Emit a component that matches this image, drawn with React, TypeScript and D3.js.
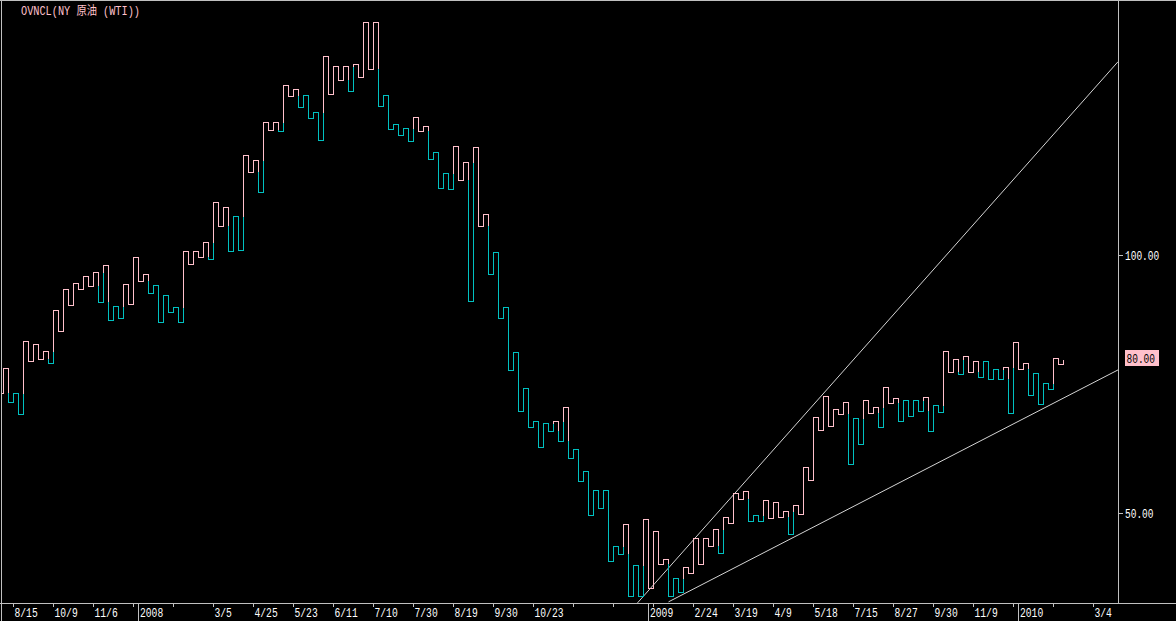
import React from "react";
import * as d3 from "d3";

// Kagi reversal levels (USD/bbl), left to right
const kagiLevels: number[] = [
  73.28, 78.02, 71.42, 73.17, 69.09, 83.31, 79.43, 82.67, 79.76, 81.32,
  78.99, 89.27, 85.2, 93.35, 90.3, 94.51, 93.4, 95.87, 93.93, 96.7,
  90.94, 98.0, 87.33, 90.05, 87.72, 94.32, 90.43, 99.61, 94.9, 96.26,
  92.57, 94.24, 86.94, 92.24, 88.88, 89.85, 86.94, 100.72, 98.2, 100.72,
  99.55, 102.46, 99.28, 110.22, 105.57, 109.25, 100.72, 107.51, 100.91, 119.34,
  116.01, 118.47, 112.32, 125.9, 124.19, 125.71, 124.02, 133.08, 130.79, 132.15,
  128.81, 130.99, 126.52, 127.69, 122.25, 138.55, 131.18, 136.61, 133.9, 136.61,
  131.82, 137.0, 134.48, 145.15, 136.03, 145.15, 128.85, 130.99, 124.39, 125.36,
  123.22, 124.58, 122.06, 126.72, 124.0, 124.97, 118.57, 119.93, 112.94, 115.85,
  112.75, 121.09, 114.49, 117.99, 91.02, 120.9, 105.57, 107.9, 96.26, 100.52,
  87.72, 89.85, 77.63, 81.12, 69.67, 74.14, 66.57, 67.73, 62.71, 67.35,
  65.79, 67.73, 63.85, 70.45, 60.56, 62.3, 56.09, 58.03, 49.5, 54.35,
  50.85, 54.35, 40.57, 43.48, 41.93, 47.75, 33.78, 39.8, 33.78, 48.72,
  35.33, 46.39, 39.99, 40.96, 33.78, 37.27, 34.56, 39.41, 38.24, 45.03,
  39.99, 45.03, 43.48, 46.78, 42.12, 49.11, 47.94, 53.76, 52.6, 54.15,
  48.33, 49.5, 48.33, 52.41, 48.91, 52.02, 49.11, 50.27, 45.81, 51.44,
  49.69, 58.81, 56.29, 68.51, 65.99, 72.58, 66.76, 70.06, 69.09, 71.42,
  59.39, 68.32, 63.27, 71.81, 69.29, 70.45, 66.57, 74.33, 71.23, 72.29,
  67.73, 71.81, 68.7, 71.81, 69.67, 72.39, 65.79, 70.84, 69.48, 81.32,
  77.24, 79.76, 76.85, 80.35, 77.24, 79.38, 76.27, 79.38, 75.88, 77.82,
  75.88, 78.21, 69.29, 83.06, 77.82, 78.99, 72.78, 77.05, 71.03, 75.11,
  73.94, 79.96, 78.79, 79.72,
];

// bottom axis: one tick every 8 kagi lines, starting at line 3
const dateLabels: string[] = [
  "8/15", "10/9", "11/6", "", "", "3/5", "4/25", "5/23", "6/11", "7/10",
  "7/30", "8/19", "9/30", "10/23", "", "", "", "2/24", "3/19", "4/9",
  "5/18", "7/15", "8/27", "9/30", "11/9", "", "", "3/4",
];
const yearLabels: string[] = ["2008", "2009", "2010"];
const yearLineIndex: number[] = [28, 130, 204];

const priceTicks: number[] = [50, 100];
const lastPrice = 80.0;

// trend lines: [kagi index, price]
const trendSteep: [number, number][] = [[127.8, 32.5], [223.9, 137.5]];
const trendShallow: [number, number][] = [[134.0, 32.7], [223.9, 77.7]];

const titleText = "OVNCL(NY 原油 (WTI))";

const PINK = "#ffc0cb";
const CYAN = "#00c0c0";
const FRAME = "#c0c0c0";
const TREND = "#d4d4d4";
const FONT = "'Liberation Mono', 'DejaVu Sans Mono', 'Noto Sans CJK JP', monospace";

type Seg = { x1: number; y1: number; x2: number; y2: number; c: string };

export default function App() {
  const W = 1176;
  const H = 621;
  const plotRight = 1118;
  const plotBottom = 603;

  const x = d3.scaleLinear().domain([1, 213]).range([3.5, 1063.5]);
  const y = d3.scaleLinear().domain([50, 100]).range([512.7, 255]);
  const py = (v: number) => Math.round(y(v)) + 0.5;

  const segs: Seg[] = [];
  let yang = true;
  segs.push({ x1: 1.5, y1: py(kagiLevels[0]), x2: x(1), y2: py(kagiLevels[0]), c: PINK });
  for (let i = 1; i < kagiLevels.length; i++) {
    const from = kagiLevels[i - 1];
    const to = kagiLevels[i];
    const xi = x(i);
    const up = to > from;
    const ref = i >= 2 ? kagiLevels[i - 2] : undefined;
    if (up && !yang && ref !== undefined && to > ref) {
      segs.push({ x1: xi, y1: py(from), x2: xi, y2: py(ref), c: CYAN });
      segs.push({ x1: xi, y1: py(ref), x2: xi, y2: py(to), c: PINK });
      yang = true;
    } else if (!up && yang && ref !== undefined && to < ref) {
      segs.push({ x1: xi, y1: py(from), x2: xi, y2: py(ref), c: PINK });
      segs.push({ x1: xi, y1: py(ref), x2: xi, y2: py(to), c: CYAN });
      yang = false;
    } else {
      segs.push({ x1: xi, y1: py(from), x2: xi, y2: py(to), c: yang ? PINK : CYAN });
    }
    if (i < kagiLevels.length - 1) {
      segs.push({ x1: xi, y1: py(to), x2: x(i + 1), y2: py(to), c: yang ? PINK : CYAN });
    }
  }

  const trendLine = d3
    .line<[number, number]>()
    .x((d) => x(d[0]))
    .y((d) => y(d[1]));

  const tickIdx = dateLabels.map((_, k) => 3 + 8 * k);
  const labelY = 617;

  return (
    <div style={{ position: "absolute", left: 0, top: 0, width: W, height: H, background: "#000" }}>
      <svg width={W} height={H} style={{ display: "block", background: "#000" }}>
        <defs>
          <clipPath id="plot">
            <rect x={2} y={1} width={plotRight - 2} height={plotBottom - 1} />
          </clipPath>
        </defs>
        <rect x={0} y={0} width={W} height={H} fill="#000" />

        {/* frame */}
        <g stroke={FRAME} strokeWidth={1} shapeRendering="crispEdges">
          <line x1={0} y1={0.5} x2={W} y2={0.5} />
          <line x1={1.5} y1={0} x2={1.5} y2={H} />
          <line x1={plotRight + 0.5} y1={0} x2={plotRight + 0.5} y2={plotBottom} />
          <line x1={0} y1={plotBottom + 0.5} x2={W} y2={plotBottom + 0.5} />
        </g>

        {/* trend lines */}
        <g clipPath="url(#plot)" fill="none" stroke={TREND} strokeWidth={1}>
          <path d={trendLine(trendSteep) || ""} />
          <path d={trendLine(trendShallow) || ""} />
        </g>

        {/* kagi */}
        <g clipPath="url(#plot)" strokeWidth={1} shapeRendering="crispEdges" strokeLinecap="square">
          {segs.map((s, i) => (
            <line key={i} x1={s.x1} y1={s.y1} x2={s.x2} y2={s.y2} stroke={s.c} />
          ))}
        </g>

        {/* title */}
        <text
          x={21}
          y={15}
          fill={PINK}
          fontFamily={FONT}
          fontSize={12}
          textLength={119}
          lengthAdjust="spacingAndGlyphs"
        >
          {titleText}
        </text>

        {/* bottom axis ticks and labels */}
        <g shapeRendering="crispEdges" stroke={FRAME}>
          {tickIdx.map((t, k) => (
            <line key={k} x1={x(t) + 0.1} y1={plotBottom} x2={x(t) + 0.1} y2={plotBottom + 4} />
          ))}
          {yearLineIndex.map((t, k) => (
            <line key={"y" + k} x1={x(t)} y1={plotBottom} x2={x(t)} y2={H} />
          ))}
        </g>
        <g fill="#fff" fontFamily={FONT} fontSize={12}>
          {dateLabels.map((lab, k) =>
            lab ? (
              <text
                key={k}
                x={x(tickIdx[k]) + 1}
                y={labelY}
                textLength={lab.length * 5.8}
                lengthAdjust="spacingAndGlyphs"
              >
                {lab}
              </text>
            ) : null
          )}
          {yearLabels.map((lab, k) => (
            <text
              key={"yl" + k}
              x={x(yearLineIndex[k]) + 1.5}
              y={labelY}
              textLength={lab.length * 5.8}
              lengthAdjust="spacingAndGlyphs"
            >
              {lab}
            </text>
          ))}
        </g>

        {/* right axis */}
        <g>
          {priceTicks.map((p) => (
            <g key={p}>
              <line
                x1={plotRight}
                x2={plotRight + 5}
                y1={py(p)}
                y2={py(p)}
                stroke={FRAME}
                shapeRendering="crispEdges"
              />
              <text
                x={plotRight + 7}
                y={py(p) + 4.5}
                fill="#fff"
                fontFamily={FONT}
                fontSize={12}
                textLength={d3.format(".2f")(p).length * 5.7}
                lengthAdjust="spacingAndGlyphs"
              >
                {d3.format(".2f")(p)}
              </text>
            </g>
          ))}
          <rect x={plotRight + 7} y={Math.round(y(lastPrice)) - 8} width={34} height={16} fill={PINK} />
          <text
            x={plotRight + 8.5}
            y={Math.round(y(lastPrice)) + 4.5}
            fill="#000"
            fontFamily={FONT}
            fontSize={12}
            textLength={5 * 5.7}
            lengthAdjust="spacingAndGlyphs"
          >
            {d3.format(".2f")(lastPrice)}
          </text>
        </g>
      </svg>
    </div>
  );
}
